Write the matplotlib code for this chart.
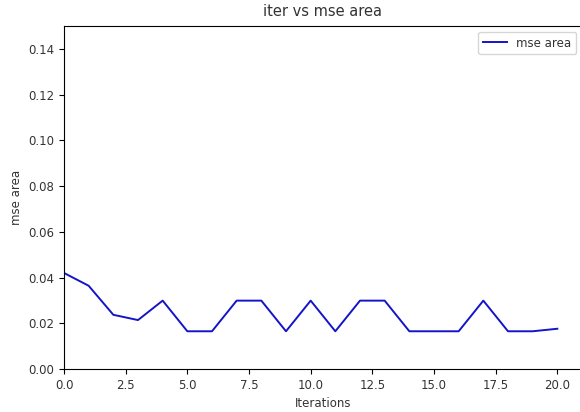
import numpy as np
import matplotlib
matplotlib.use("Agg")
import matplotlib.pyplot as plt

# mse area per iteration
iterations = list(range(21))
mse_area = [0.0420, 0.0364, 0.0237, 0.0214, 0.0299, 0.0165, 0.0165,
            0.0299, 0.0299, 0.0165, 0.0299, 0.0165, 0.0299, 0.0299,
            0.0165, 0.0165, 0.0165, 0.0299, 0.0165, 0.0165, 0.0176]

plt.rcParams["font.size"] = 8.5
plt.rcParams["text.color"] = "#333333"
plt.rcParams["axes.labelcolor"] = "#333333"
plt.rcParams["xtick.labelcolor"] = "#333333"
plt.rcParams["ytick.labelcolor"] = "#333333"

fig = plt.figure(figsize=(5.8, 4.12), dpi=100)
ax = fig.add_axes([64 / 580, 43 / 412, 518 / 580, 343 / 412])

ax.plot(iterations, mse_area, color="#1414c8", lw=1.4, label="mse area")
ax.set_xlim(0, 21)
ax.set_ylim(0, 0.15)
ax.set_xticks(np.arange(0, 20.1, 2.5))
ax.set_yticks(np.arange(0, 0.141, 0.02))
ax.set_xlabel("Iterations")
ax.set_ylabel("mse area")
ax.set_title("iter vs mse area", fontsize=10.5, pad=7)
ax.legend(loc="upper right")

fig.savefig("out.png", dpi=100)
